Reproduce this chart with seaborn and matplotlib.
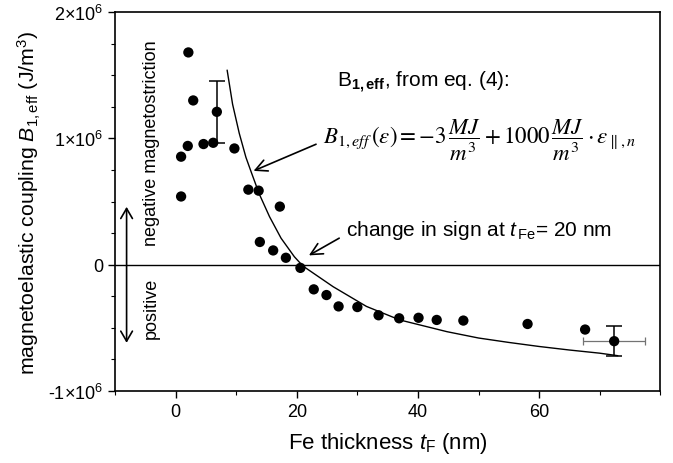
import numpy as np
import pandas as pd
import seaborn as sns
import matplotlib.pyplot as plt
from matplotlib.ticker import MultipleLocator, FixedLocator

# datos (espesor en nm, B en 1e6 J/m3)
t_fe = [0.9, 0.9, 2.0, 2.1, 2.9, 4.6, 6.2, 6.8, 9.7, 12.0, 13.7, 13.9, 16.1, 17.2,
        18.2, 20.6, 22.8, 24.9, 26.9, 30.0, 33.5, 36.9, 40.1, 43.1, 47.5, 58.1,
        67.6, 72.4]
b_eff = [0.54, 0.855, 0.94, 1.68, 1.30, 0.955, 0.965, 1.21, 0.92, 0.594, 0.586,
         0.18, 0.113, 0.46, 0.055, -0.025, -0.195, -0.24, -0.33, -0.335, -0.40,
         -0.424, -0.42, -0.437, -0.442, -0.469, -0.513, -0.605]

# curva del modelo, eq. (4)
t_fit = [8.5, 9.4, 10.5, 11.6, 12.5, 13.8, 15.5, 17.4, 19.6, 21.0, 26.0, 31.5,
         37.0, 44.8, 50.0, 55.0, 60.0, 65.0, 70.0, 73.0]
b_fit = [1.54, 1.27, 1.04, 0.85, 0.73, 0.56, 0.38, 0.21, 0.063, -0.01, -0.174,
         -0.33, -0.437, -0.53, -0.58, -0.615, -0.647, -0.675, -0.70, -0.72]

# barras de error
err_t = [6.8, 72.4]
err_b = [1.21, -0.605]
err_yb = [0.245, 0.117]
err_xt = [0.0, 5.1]

yticks = [-1, 0, 1, 2]
ytick_labels = ['-1×10$^6$', '0', '1×10$^6$', '2×10$^6$']
xticks = [0, 20, 40, 60]

sns.set_theme(style='ticks')
plt.rcParams['font.family'] = ['Liberation Sans', 'DejaVu Sans']
plt.rcParams['mathtext.fontset'] = 'custom'
plt.rcParams['mathtext.rm'] = 'Liberation Sans'
plt.rcParams['mathtext.it'] = 'Liberation Sans:italic'
plt.rcParams['mathtext.bf'] = 'Liberation Sans:bold'

df = pd.DataFrame({'t': t_fe, 'B': np.array(b_eff) * 1e6})
df_fit = pd.DataFrame({'t': t_fit, 'B': np.array(b_fit) * 1e6})

fig = plt.figure(figsize=(6.73, 4.64), dpi=100)
ax = fig.add_axes([0.171, 0.155, 0.81, 0.817])

ax.axhline(0, color='black', lw=1.0, zorder=1)
sns.lineplot(data=df_fit, x='t', y='B', ax=ax, color='black', lw=1.0, zorder=2)

# error horizontal (gris) y vertical (negro)
ax.errorbar(err_t[1], err_b[1] * 1e6, xerr=err_xt[1], fmt='none', ecolor='0.45',
            elinewidth=0.9, capsize=3, capthick=0.9, zorder=2)
ax.errorbar(err_t, np.array(err_b) * 1e6, yerr=np.array(err_yb) * 1e6, fmt='none',
            ecolor='black', elinewidth=1.1, capsize=6, capthick=1.1, zorder=2)

sns.scatterplot(data=df, x='t', y='B', ax=ax, color='black', s=55, edgecolor='none',
                zorder=3)

ax.set_xlim(-10, 80)
ax.set_ylim(-1e6, 2e6)
ax.yaxis.set_major_locator(FixedLocator([v * 1e6 for v in yticks]))
ax.set_yticklabels(ytick_labels)
ax.yaxis.set_minor_locator(MultipleLocator(0.25e6))
ax.xaxis.set_major_locator(FixedLocator(xticks))
ax.xaxis.set_minor_locator(MultipleLocator(10))
ax.tick_params(axis='both', which='major', labelsize=13, length=5, width=1,
               color='black', labelcolor='black', direction='out')
ax.tick_params(axis='both', which='minor', length=3, width=0.8, color='black',
               direction='out')
for s in ax.spines.values():
    s.set_color('black')
    s.set_linewidth(1.2)

ax.set_xlabel(r'Fe thickness $t_{\mathrm{F}}$ (nm)', fontsize=16, color='black',
              labelpad=7)
ax.set_ylabel(r'magnetoelastic coupling $B_{1,\mathrm{eff}}$ (J/m$^3$)', fontsize=15.3,
              color='black', labelpad=4)

# flecha doble y textos de signo
ax.annotate('', xy=(-8.1, 0.48e6), xytext=(-8.1, -0.64e6),
            arrowprops=dict(arrowstyle='<->,head_length=0.6,head_width=0.35',
                            color='black', lw=1.2))
ax.text(-4.0, 0.97e6, 'negative magnetostriction', rotation=90, fontsize=13,
        ha='center', va='center', color='black')
ax.text(-4.0, -0.34e6, 'positive', rotation=90, fontsize=13,
        ha='center', va='center', color='black')

# ecuacion y anotaciones
ax.text(26.6, 1.415e6, r'B$_{\mathbf{1,eff}}$, from eq. (4):', fontsize=15,
        ha='left', va='baseline', color='black')
ax.text(24.4, 0.99e6,
        r'$B_{1,eff}\,(\varepsilon) = -3\,\dfrac{MJ}{m^3} + 1000\,\dfrac{MJ}{m^3}\cdot\varepsilon_{\parallel,n}$',
        fontsize=16.5, ha='left', va='center', color='black', math_fontfamily='stix')
ax.annotate('', xy=(12.44, 0.734e6), xytext=(23.6, 0.962e6),
            arrowprops=dict(arrowstyle='->,head_length=0.7,head_width=0.35',
                            color='black', lw=1.2))
ax.text(28.2, 0.234e6, r'change in sign at $t_{\,\mathrm{Fe}}$= 20 nm', fontsize=15,
        ha='left', va='baseline', color='black')
ax.annotate('', xy=(21.6, 0.063e6), xytext=(27.4, 0.221e6),
            arrowprops=dict(arrowstyle='->,head_length=0.7,head_width=0.35',
                            color='black', lw=1.2))

fig.savefig('out.png', dpi=100)
